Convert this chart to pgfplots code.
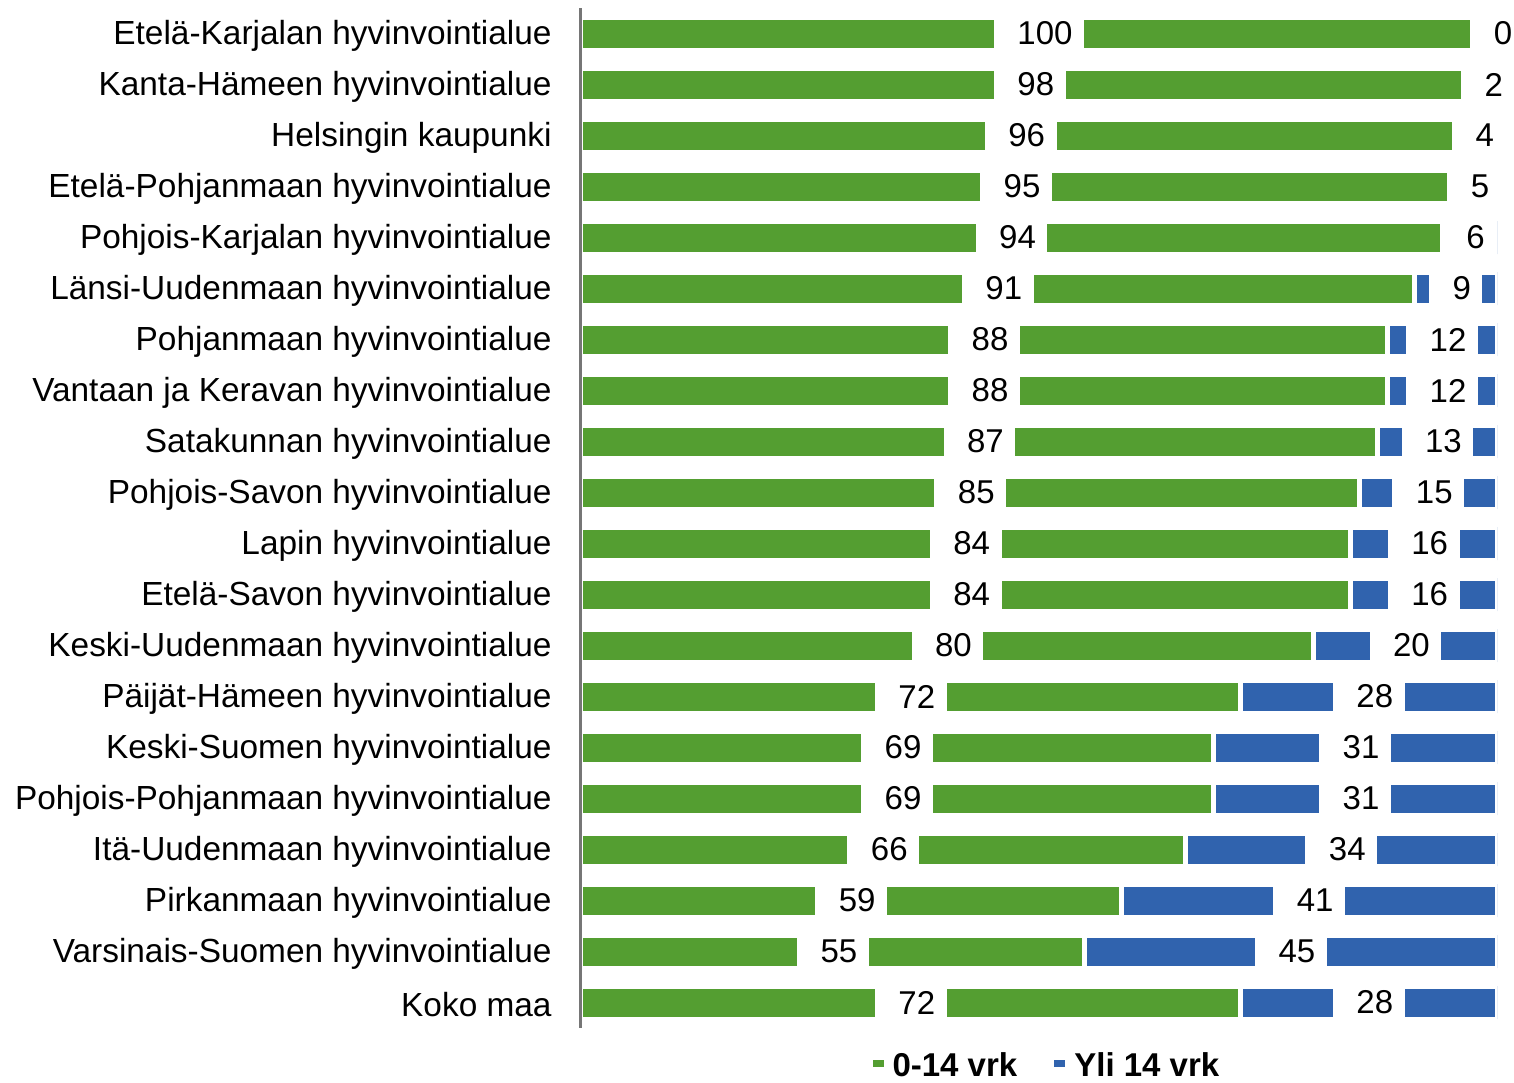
\documentclass[border=0pt]{standalone}
\usepackage{pgfplots}
\pgfplotsset{compat=1.18}
\usepackage{pgfplotstable}
\usepackage{fontspec}
\setmainfont{Liberation Sans}
\definecolor{grn}{RGB}{84,158,49}
\definecolor{blu}{RGB}{48,99,174}
\definecolor{axgray}{RGB}{118,118,118}

% i = row (top to bottom), g = 0-14 vrk, b = yli 14 vrk
\pgfplotstableread{
i g b
0 100 0
1 98 2
2 96 4
3 95 5
4 94 6
5 91 9
6 88 12
7 88 12
8 87 13
9 85 15
10 84 16
11 84 16
12 80 20
13 72 28
14 69 31
15 69 31
16 66 34
17 59 41
18 55 45
19 72 28
}\shares

\begin{document}
\begin{tikzpicture}
\useasboundingbox (-290.5pt,-27pt) rectangle (466.5pt,514pt);
\begin{axis}[
    at={(0,0)}, anchor=south west,
    scale only axis, width=458pt, height=510pt,
    xmin=0, xmax=100, ymin=-0.5, ymax=19.5, y dir=reverse,
    axis x line=none, axis y line*=left,
    y axis line style={-, draw=axgray, line width=1.5pt},
    axis on top,
    bar width=16.5pt,
    ytick={0,...,19}, major tick length=0pt, ytick style={draw=none},
    yticklabels={Etelä-Karjalan hyvinvointialue, Kanta-Hämeen hyvinvointialue, Helsingin kaupunki,
      Etelä-Pohjanmaan hyvinvointialue, Pohjois-Karjalan hyvinvointialue, Länsi-Uudenmaan hyvinvointialue,
      Pohjanmaan hyvinvointialue, Vantaan ja Keravan hyvinvointialue, Satakunnan hyvinvointialue,
      Pohjois-Savon hyvinvointialue, Lapin hyvinvointialue, Etelä-Savon hyvinvointialue,
      Keski-Uudenmaan hyvinvointialue, Päijät-Hämeen hyvinvointialue, Keski-Suomen hyvinvointialue,
      Pohjois-Pohjanmaan hyvinvointialue, Itä-Uudenmaan hyvinvointialue, Pirkanmaan hyvinvointialue,
      Varsinais-Suomen hyvinvointialue, Koko maa},
    yticklabel style={anchor=east, inner xsep=0pt, xshift=-14.5pt, yshift=-1pt,
      font=\fontsize{16.7}{19}\selectfont},
    /pgf/number format/assume math mode=true,
    legend columns=2,
    legend style={draw=none, at={(0.507,0)}, anchor=center, yshift=-19pt,
      font=\bfseries\fontsize{16.5}{19}\selectfont,
      /tikz/column 2/.style={column sep=14pt}},
    legend image code/.code={\draw[#1, draw=none] (0pt,-2.5pt) rectangle (5pt,2.5pt);},
]
\addplot[xbar stacked, fill=grn, draw=white, line width=2.5pt] table[x=g, y=i]{\shares};
\addlegendentry{0-14 vrk}
\addplot[xbar stacked, fill=blu, draw=white, line width=2.5pt] table[x=b, y=i]{\shares};
\addlegendentry{Yli 14 vrk}

\addplot[forget plot, stack plots=false, only marks, mark=none, point meta=explicit,
    nodes near coords={\hspace*{6pt}\pgfmathprintnumber{\pgfplotspointmeta}},
    nodes near coords style={anchor=center, fill=white, inner xsep=5.75pt, inner ysep=4pt,
      font=\fontsize{16.5}{19}\selectfont}]
    table[x expr=\thisrow{g}/2, y=i, meta=g]{\shares};
\addplot[forget plot, stack plots=false, only marks, mark=none, point meta=explicit,
    nodes near coords={\hspace*{6pt}\pgfmathprintnumber{\pgfplotspointmeta}},
    nodes near coords style={anchor=center, fill=white, inner xsep=5.75pt, inner ysep=4pt,
      font=\fontsize{16.5}{19}\selectfont}]
    table[x expr=\thisrow{g}+\thisrow{b}/2, y=i, meta=b]{\shares};
\end{axis}
\end{tikzpicture}
\end{document}
